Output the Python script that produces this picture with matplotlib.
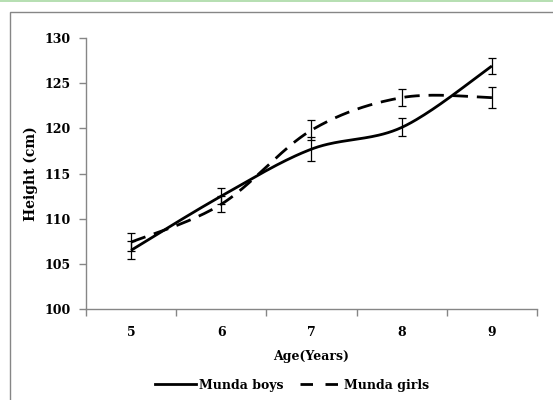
import numpy as np
import matplotlib.pyplot as plt
from matplotlib.patches import Rectangle
from matplotlib.lines import Line2D

ages = [5, 6, 7, 8, 9]
boys = [106.5, 112.5, 117.7, 120.1, 126.9]
boys_err = [1.0, 0.9, 1.3, 1.0, 0.9]
girls = [107.4, 111.6, 119.8, 123.4, 123.4]
girls_err = [1.0, 0.9, 1.1, 0.9, 1.2]


def smooth(x, y, n=40):
    # Excel-like smoothed line: cubic bezier with catmull-rom control points
    x = np.asarray(x, float)
    y = np.asarray(y, float)
    px = np.concatenate([[x[0]], x, [x[-1]]])
    py = np.concatenate([[y[0]], y, [y[-1]]])
    t = np.linspace(0, 1, n)
    xs, ys = [], []
    for i in range(1, len(px) - 2):
        p0 = np.array([px[i], py[i]])
        p3 = np.array([px[i + 1], py[i + 1]])
        c1 = p0 + (np.array([px[i + 1], py[i + 1]]) - np.array([px[i - 1], py[i - 1]])) / 6
        c2 = p3 - (np.array([px[i + 2], py[i + 2]]) - np.array([px[i], py[i]])) / 6
        b = ((1 - t) ** 3)[:, None] * p0 + (3 * (1 - t) ** 2 * t)[:, None] * c1 \
            + (3 * (1 - t) * t ** 2)[:, None] * c2 + (t ** 3)[:, None] * p3
        xs.append(b[:, 0])
        ys.append(b[:, 1])
    return np.concatenate(xs), np.concatenate(ys)


plt.rcParams['font.family'] = 'DejaVu Serif'
plt.rcParams['font.weight'] = 'bold'

fig = plt.figure(figsize=(5.53, 4.0), dpi=100)
ax = fig.add_axes([86 / 553, 1 - 309 / 400, (537 - 86) / 553, (309 - 38) / 400])

gray = '#868686'
dash = (0, (5.5, 3.2))

bx, by = smooth(ages, boys)
gx, gy = smooth(ages, girls)
ax.plot(bx, by, color='black', lw=2.0, solid_capstyle='butt', label='Munda boys')
ax.plot(gx, gy, color='black', lw=2.0, ls=dash, label='Munda girls')
ax.errorbar(ages, boys, yerr=boys_err, fmt='none', ecolor='black', elinewidth=0.9, capsize=3.2, capthick=0.9)
ax.errorbar(ages, girls, yerr=girls_err, fmt='none', ecolor='black', elinewidth=0.9, capsize=3.2, capthick=0.9)

ax.set_xlim(4.5, 9.5)
ax.set_ylim(100, 130)
ax.set_yticks(np.arange(100, 131, 5))
ax.set_xticks(ages)
ax.set_xticks(np.arange(4.5, 9.6, 1), minor=True)

for s in ['top', 'right']:
    ax.spines[s].set_visible(False)
for s in ['left', 'bottom']:
    ax.spines[s].set_color(gray)
    ax.spines[s].set_linewidth(1.0)

ax.tick_params(axis='x', which='major', length=0, pad=12, labelsize=9)
ax.tick_params(axis='x', which='minor', length=5, color=gray, width=1.0)
ax.tick_params(axis='y', length=5, color=gray, width=1.0, pad=6, labelsize=9)

ax.set_xlabel('Age(Years)', fontsize=9, fontweight='bold', labelpad=8)
ax.set_ylabel('Height (cm)', fontsize=10, fontweight='bold', labelpad=5)

handles = [Line2D([], [], color='black', lw=2.0),
           Line2D([], [], color='black', lw=2.0, ls=(0, (4.5, 4.5)))]
fig.legend(handles, ['Munda boys', 'Munda girls'], loc='center', bbox_to_anchor=(292 / 553, 1 - 385 / 400),
           ncol=2, frameon=False, fontsize=9, handlelength=3.3, handletextpad=0.25, columnspacing=1.3)

# chart frame
fig.patches.append(Rectangle((10 / 553, -0.05), 1.0, 1 - 12 / 400 + 0.05, transform=fig.transFigure,
                             fill=False, edgecolor=gray, lw=1.0))
fig.lines.append(Line2D([0, 1], [1 - 1 / 400, 1 - 1 / 400], transform=fig.transFigure, color='#a9d9a4', lw=1.2))

fig.savefig('out.png', dpi=100)
